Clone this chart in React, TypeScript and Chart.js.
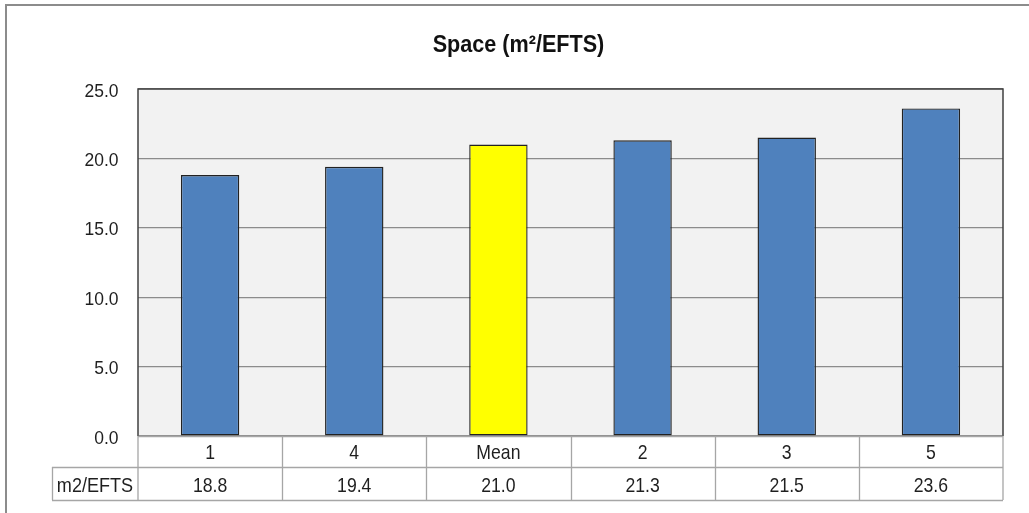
import React, { useEffect, useRef } from "react";
import { Chart, registerables } from "chart.js";

Chart.register(...registerables);

const categories = ["1", "4", "Mean", "2", "3", "5"];
const values = [18.8, 19.4, 21.0, 21.3, 21.5, 23.6];
const seriesLabel = "m2/EFTS";
const chartTitle = "Space (m\u00B2/EFTS)";
const yMin = 0;
const yMax = 25;
const yStep = 5;

const BLUE = "#4F81BD";
const YELLOW = "#FFFF00";
const FONT = "'Liberation Sans', Arial, sans-serif";

function narrowText(ctx: CanvasRenderingContext2D, text: string, x: number, y: number, sx: number) {
  ctx.save();
  ctx.translate(x, y);
  ctx.scale(sx, 1);
  ctx.fillText(text, 0, 0);
  ctx.restore();
}

export default function App() {
  const ref = useRef<HTMLCanvasElement | null>(null);

  useEffect(() => {
    const canvas = ref.current;
    if (!canvas) return;

    const framePlugin = {
      id: "frameAndTable",
      beforeDraw(chart: any) {
        const { ctx, chartArea: a } = chart;
        ctx.save();
        ctx.fillStyle = "#F2F2F2";
        ctx.fillRect(a.left, a.top, a.right - a.left, a.bottom - a.top);
        ctx.restore();
      },
      afterDraw(chart: any) {
        const { ctx, chartArea: a } = chart;
        const xs = chart.scales.x;
        const ys = chart.scales.y;
        const n = categories.length;
        ctx.save();
        ctx.textBaseline = "alphabetic";

        // title
        ctx.fillStyle = "#111";
        ctx.font = `bold 24px ${FONT}`;
        ctx.textAlign = "center";
        narrowText(ctx, chartTitle, chart.width / 2 + 4, 51.5, 0.9);

        // y tick labels
        ctx.fillStyle = "#1f1f1f";
        ctx.font = `19px ${FONT}`;
        ctx.textAlign = "right";
        for (const t of ys.ticks) {
          const py = ys.getPixelForValue(t.value);
          narrowText(ctx, Number(t.value).toFixed(1), a.left - 19.5, py + 7.5, 0.92);
        }

        // plot border (top, left, right)
        ctx.strokeStyle = "#404040";
        ctx.lineWidth = 1.5;
        ctx.beginPath();
        ctx.moveTo(a.left, a.bottom);
        ctx.lineTo(a.left, a.top);
        ctx.lineTo(a.right, a.top);
        ctx.lineTo(a.right, a.bottom);
        ctx.stroke();

        // data table
        const r1Top = a.bottom;
        const r1Bot = a.bottom + 31;
        const r2Bot = a.bottom + 64;
        const headLeft = a.left - 86;
        ctx.strokeStyle = "#A6A6A6";
        ctx.lineWidth = 1.3;
        ctx.beginPath();
        ctx.moveTo(a.left, r1Top + 0.5);
        ctx.lineTo(a.right, r1Top + 0.5);
        ctx.moveTo(headLeft, r1Bot + 0.5);
        ctx.lineTo(a.right, r1Bot + 0.5);
        ctx.moveTo(headLeft, r2Bot + 0.5);
        ctx.lineTo(a.right, r2Bot + 0.5);
        ctx.moveTo(headLeft + 0.5, r1Bot);
        ctx.lineTo(headLeft + 0.5, r2Bot);
        ctx.moveTo(a.left, r1Top);
        ctx.lineTo(a.left, r2Bot);
        ctx.moveTo(a.right, r1Top);
        ctx.lineTo(a.right, r2Bot);
        for (let i = 0; i < n - 1; i++) {
          const bx = Math.round((xs.getPixelForValue(i) + xs.getPixelForValue(i + 1)) / 2) + 0.5;
          ctx.moveTo(bx, r1Top);
          ctx.lineTo(bx, r2Bot);
        }
        ctx.stroke();

        ctx.fillStyle = "#1f1f1f";
        ctx.font = `21px ${FONT}`;
        ctx.textAlign = "center";
        for (let i = 0; i < n; i++) {
          const cx = xs.getPixelForValue(i);
          narrowText(ctx, categories[i], cx, r1Top + 23, 0.84);
          narrowText(ctx, values[i].toFixed(1), cx, r1Top + 56, 0.84);
        }
        narrowText(ctx, seriesLabel, (headLeft + a.left) / 2, r1Top + 56, 0.86);
        ctx.restore();
      },
    };

    const chart = new Chart(canvas, {
      type: "bar",
      data: {
        labels: categories,
        datasets: [
          {
            label: seriesLabel,
            data: values,
            backgroundColor: categories.map((c) => (c === "Mean" ? YELLOW : BLUE)),
            borderColor: "#222222",
            borderWidth: 1.4,
            borderSkipped: false,
            barPercentage: 0.405,
            categoryPercentage: 1,
          },
        ],
      },
      options: {
        responsive: false,
        animation: false,
        layout: { padding: { top: 89, right: 26, bottom: 77, left: 0 } },
        plugins: {
          legend: { display: false },
          title: { display: false },
          tooltip: { enabled: false },
        },
        scales: {
          x: {
            display: false,
            offset: true,
          },
          y: {
            min: yMin,
            max: yMax,
            ticks: {
              stepSize: yStep,
              display: false,
            },
            grid: { color: "#8C8C8C", lineWidth: 1.2, drawTicks: false },
            border: { display: false },
            afterFit: (s: any) => {
              s.width = 138;
              s.paddingTop = 0;
              s.paddingBottom = 0;
            },
          },
        },
      },
      plugins: [framePlugin],
    });

    return () => chart.destroy();
  }, []);

  return (
    <div
      style={{
        position: "fixed",
        left: 0,
        top: 0,
        width: 1029,
        height: 513,
        overflow: "hidden",
        background: "#fff",
      }}
    >
      <div
        style={{
          position: "absolute",
          left: 5,
          top: 4,
          width: 1200,
          height: 700,
          border: "2px solid #8C8C8C",
        }}
      />
      <canvas ref={ref} width={1029} height={513} style={{ position: "absolute", left: 0, top: 0 }} />
    </div>
  );
}
